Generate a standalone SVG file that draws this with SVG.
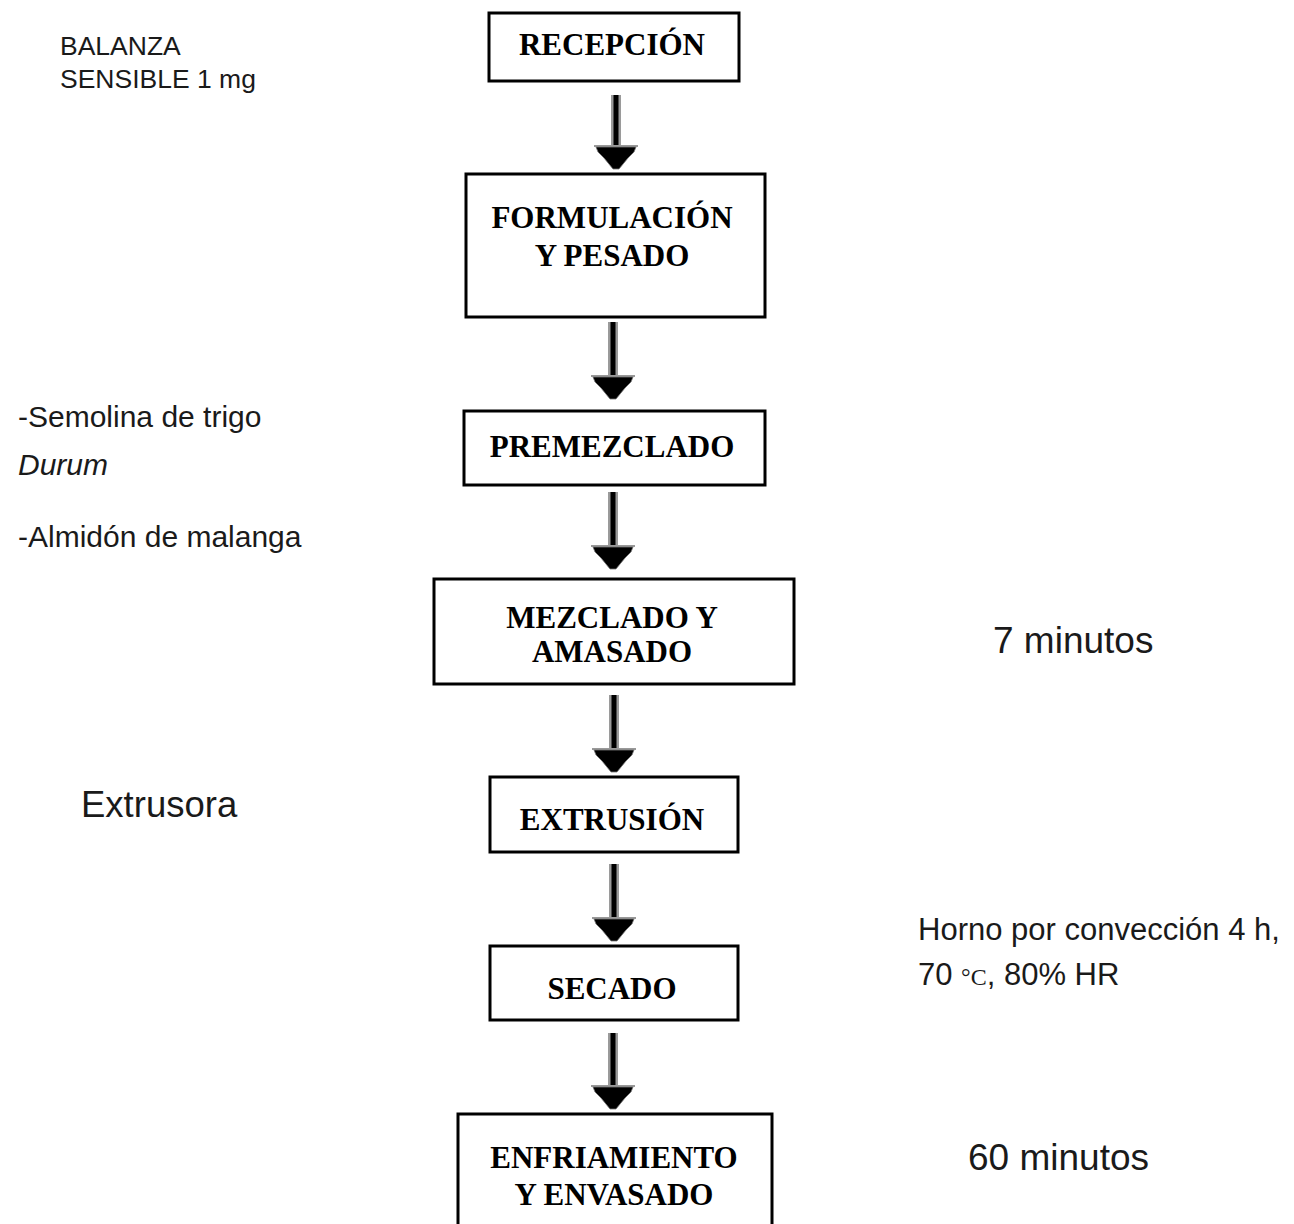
<svg xmlns="http://www.w3.org/2000/svg" width="1294" height="1224" viewBox="0 0 1294 1224">
<style>
.box{fill:#fff;stroke:#000;stroke-width:3}
.t{font-family:"Liberation Serif","Times New Roman",serif;font-weight:bold;font-size:31px;fill:#000;text-anchor:middle}
.n{font-family:"Liberation Sans",Arial,sans-serif;fill:#1a1a1a}
.sh{fill:#9a9a9a}
.sk{fill:#000}
</style>
<defs>
<g id="head">
<rect x="-22" y="0" width="44" height="2" fill="#999"/>
<polygon points="-20,2 20,2 18,7 12,13 3,24 -3,24 -12,13 -18,7" fill="#000" stroke="#777" stroke-width="0.8"/>
</g>
</defs>
<rect width="1294" height="1224" fill="#fff"/>

<g id="connectors">
<g id="a1"><rect class="sh" x="611" y="95" width="10" height="50"/><rect class="sk" x="613.5" y="95" width="5" height="50"/><use href="#head" x="616" y="145"/></g>
<g id="a2"><rect class="sh" x="608" y="322" width="10" height="53"/><rect class="sk" x="610.5" y="322" width="5" height="53"/><use href="#head" x="613" y="375"/></g>
<g id="a3"><rect class="sh" x="608" y="492" width="10" height="53"/><rect class="sk" x="610.5" y="492" width="5" height="53"/><use href="#head" x="613" y="545"/></g>
<g id="a4"><rect class="sh" x="609" y="695" width="10" height="53"/><rect class="sk" x="611.5" y="695" width="5" height="53"/><use href="#head" x="614" y="748"/></g>
<g id="a5"><rect class="sh" x="609" y="864" width="10" height="53"/><rect class="sk" x="611.5" y="864" width="5" height="53"/><use href="#head" x="614" y="917"/></g>
<g id="a6"><rect class="sh" x="608" y="1033" width="10" height="52"/><rect class="sk" x="610.5" y="1033" width="5" height="52"/><use href="#head" x="613" y="1085"/></g>
</g>

<g id="recepcion"><rect class="box" x="489" y="13" width="250" height="68"/><text class="t" x="612" y="55">RECEPCIÓN</text></g>
<g id="formulacion"><rect class="box" x="466" y="174" width="299" height="143"/><text class="t" x="612" y="228">FORMULACIÓN</text><text class="t" x="612" y="266">Y PESADO</text></g>
<g id="premezclado"><rect class="box" x="464" y="411" width="301" height="74"/><text class="t" x="612" y="457">PREMEZCLADO</text></g>
<g id="mezclado"><rect class="box" x="434" y="579" width="360" height="105"/><text class="t" x="612" y="628">MEZCLADO Y</text><text class="t" x="612" y="662">AMASADO</text></g>
<g id="extrusion"><rect class="box" x="490" y="777" width="248" height="75"/><text class="t" x="612" y="830">EXTRUSIÓN</text></g>
<g id="secado"><rect class="box" x="490" y="946" width="248" height="74"/><text class="t" x="612" y="999">SECADO</text></g>
<g id="enfriamiento"><rect class="box" x="458" y="1114" width="314" height="120"/><text class="t" x="614" y="1168">ENFRIAMIENTO</text><text class="t" x="614" y="1205">Y ENVASADO</text></g>

<g id="notes">
<text class="n" x="60" y="55" font-size="26.5">BALANZA</text>
<text class="n" x="60" y="88" font-size="26.5">SENSIBLE 1 mg</text>
<text class="n" x="18" y="427" font-size="30">-Semolina de trigo</text>
<text class="n" x="18" y="475" font-size="30" font-style="italic">Durum</text>
<text class="n" x="18" y="547" font-size="30">-Almidón de malanga</text>
<text class="n" x="993" y="653" font-size="37">7 minutos</text>
<text class="n" x="81" y="817" font-size="36.5">Extrusora</text>
<text class="n" x="918" y="940" font-size="31">Horno por convección 4 h,</text>
<text class="n" x="918" y="985" font-size="31">70 <tspan font-family="Liberation Serif,serif" font-size="24">°C</tspan>, 80% HR</text>
<text class="n" x="968" y="1170" font-size="37">60 minutos</text>
</g>
</svg>
